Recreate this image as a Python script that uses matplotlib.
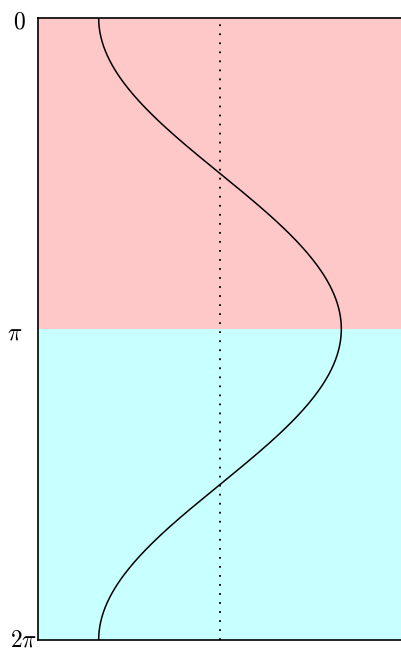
import numpy as np
import matplotlib.pyplot as plt
from matplotlib.transforms import ScaledTranslation

plt.rcParams['mathtext.fontset'] = 'cm'

# shaded bands along the y (angle) axis
bands = [(0, np.pi), (np.pi, 2 * np.pi)]
band_colors = ['#ffc8c8', '#c8ffff']

ytick_values = [0, np.pi, 2 * np.pi]
ytick_labels = [r'$0$', r'$\pi$', r'$2\pi$']
# small nudges (pixels) for each label
label_dx = [-0.5, -5, 4]
label_dy = [-1, -1, 3]

theta = np.linspace(0, 2 * np.pi, 400)
x = -np.cos(theta)

fig = plt.figure(figsize=(4.02, 6.51), dpi=100)
ax = fig.add_axes([0.0945, 0.0169, 0.9055, 0.9555])

for (lo, hi), c in zip(bands, band_colors):
    ax.axhspan(lo, hi, color=c, lw=0)

ax.axvline(0, color='black', ls=(0, (1, 4)), lw=1.3)
ax.plot(x, theta, color='black', lw=1.1)

ax.set_xlim(-1.5, 1.5)
ax.set_ylim(2 * np.pi, 0)
ax.set_xticks([])
ax.set_yticks(ytick_values)
ax.set_yticklabels(ytick_labels, fontsize=17, ha='center')
ax.tick_params(axis='y', length=0, pad=13)
for lab, dx, dy in zip(ax.get_yticklabels(), label_dx, label_dy):
    lab.set_transform(lab.get_transform() + ScaledTranslation(dx / 100, dy / 100, fig.dpi_scale_trans))
ax.spines['right'].set_visible(False)
for s in ['left', 'top', 'bottom']:
    ax.spines[s].set_linewidth(1.2)

fig.savefig('out.png', dpi=100)
